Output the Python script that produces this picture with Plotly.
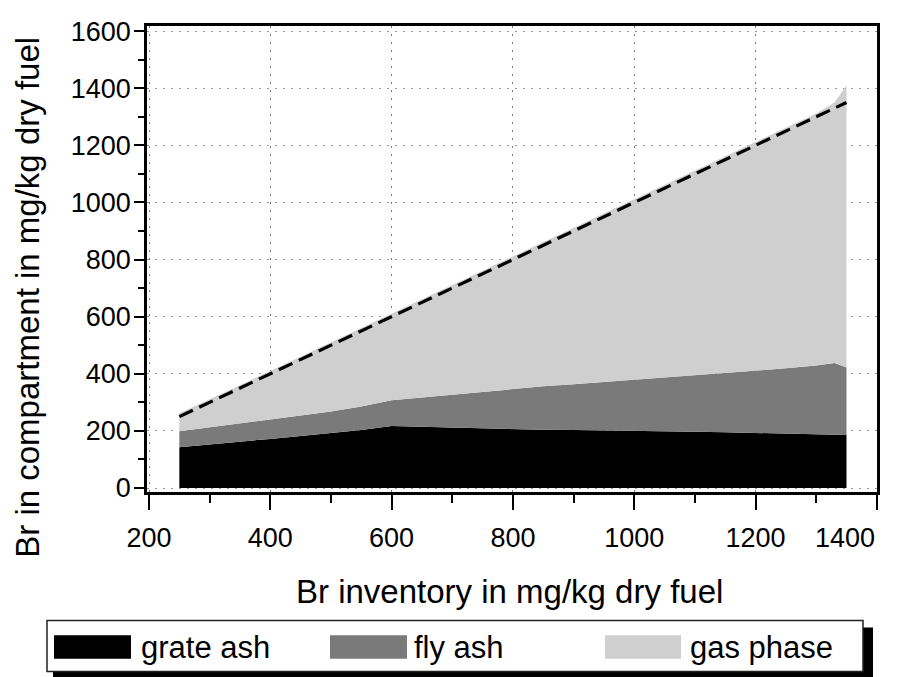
import plotly.graph_objects as go

# ---- data ----
inventory = [250, 300, 350, 400, 450, 500, 550, 600, 650, 700, 750, 800, 850, 900,
             950, 1000, 1050, 1100, 1150, 1200, 1250, 1300, 1330, 1350]
grate_ash = [143, 152, 162, 172, 182, 192, 203, 217, 214, 211, 208, 206, 204, 203,
             202, 201, 199, 197, 195, 193, 191, 189, 188, 186]
fly_ash = [56, 60, 64, 68, 72, 76, 82, 90, 103, 116, 129, 141, 152, 160,
           169, 178, 187, 196, 206, 217, 228, 240, 250, 236]
gas_phase = [63, 98, 134, 170, 206, 242, 275, 303, 343, 383, 423, 463, 504, 547,
             589, 631, 674, 717, 759, 800, 841, 883, 912, 988]
total_line_x = [250, 1350]
total_line_y = [250, 1350]

series_names = ["grate ash", "fly ash", "gas phase"]
series_colors = ["#000000", "#7a7a7a", "#cfcfcf"]

x_ticks = [200, 400, 600, 800, 1000, 1200, 1400]
y_ticks = [0, 200, 400, 600, 800, 1000, 1200, 1400, 1600]

FONT = "Liberation Sans, Arial, Helvetica, sans-serif"

fig = go.Figure()
for name, vals, col in zip(series_names, [grate_ash, fly_ash, gas_phase], series_colors):
    fig.add_trace(go.Scatter(
        x=inventory, y=vals, name=name, mode="lines", stackgroup="one",
        line=dict(width=0, color=col), fillcolor=col, showlegend=False,
        hoverinfo="x+y+name"))

fig.add_trace(go.Scatter(
    x=total_line_x, y=total_line_y, mode="lines", showlegend=False,
    line=dict(color="black", width=3.2, dash="15px,7px")))

# page body has an 8px default margin -> work in window pixels, shift by OFF
OFF = 8
W, H = 901 - OFF, 677 - OFF
L, R, T, B = 147, 877, 17, 492  # plot area in window pixels
def px(xp):
    return (xp - L) / (R - L)
def py(yp):
    return (B - yp) / (B - T)

shapes = []
annotations = []
# legend shadow + box
shapes.append(dict(type="rect", xref="paper", yref="paper",
                   x0=px(53), x1=px(873), y0=py(690), y1=py(630),
                   fillcolor="black", line=dict(width=0), layer="above"))
shapes.append(dict(type="rect", xref="paper", yref="paper",
                   x0=px(47), x1=px(863), y0=py(675), y1=py(623),
                   fillcolor="white", line=dict(color="#222", width=1.5), layer="above"))
swatch_x = [(54, 131), (330, 407), (605, 681)]
text_x = [139, 412, 688]
for (a, b), tx, name, col in zip(swatch_x, text_x, series_names, series_colors):
    shapes.append(dict(type="rect", xref="paper", yref="paper",
                       x0=px(a), x1=px(b), y0=py(662), y1=py(638),
                       fillcolor=col, line=dict(width=0), layer="above"))
    annotations.append(dict(xref="paper", yref="paper", x=px(tx), y=py(650),
                            text=name, showarrow=False, xanchor="left", yanchor="middle",
                            font=dict(family=FONT, size=31, color="black")))

# axis titles
annotations.append(dict(xref="paper", yref="paper", x=px(509), y=py(593),
                        text="Br inventory in mg/kg dry fuel", showarrow=False,
                        xanchor="center", yanchor="middle",
                        font=dict(family=FONT, size=33, color="black")))
annotations.append(dict(xref="paper", yref="paper", x=px(28), y=py(294),
                        text="Br in compartment in mg/kg dry fuel", showarrow=False,
                        textangle=-90, xanchor="center", yanchor="middle",
                        font=dict(family=FONT, size=33, color="black")))
# last x tick label sits left of its tick in the reference
annotations.append(dict(xref="paper", yref="paper", x=px(845), y=py(539),
                        text=str(x_ticks[-1]), showarrow=False,
                        xanchor="center", yanchor="middle",
                        font=dict(family=FONT, size=27, color="black")))

fig.update_layout(
    width=W, height=H,
    margin=dict(l=L - OFF, r=W - (R - OFF), t=T - OFF, b=H - (B - OFF)),
    paper_bgcolor="white", plot_bgcolor="white",
    font=dict(family=FONT, size=27, color="black"),
    shapes=shapes, annotations=annotations,
)
fig.update_xaxes(
    range=[196.7, 1400.3], tickvals=x_ticks,
    ticktext=[str(v) for v in x_ticks[:-1]] + [""],
    showline=True, linecolor="black", linewidth=2.5, mirror=True,
    ticks="outside", ticklen=15, tickwidth=2, tickcolor="black",
    minor=dict(ticks="outside", ticklen=8, tickwidth=1.5, dtick=100, tick0=200,
               tickcolor="black", showgrid=False),
    showgrid=True, gridcolor="#777", gridwidth=1, griddash="2px,6px",
    zeroline=False, ticklabelstandoff=5,
    tickfont=dict(family=FONT, size=27, color="black"),
)
fig.update_yaxes(
    range=[-14, 1618], tickvals=y_ticks, ticktext=[str(v) for v in y_ticks],
    showline=True, linecolor="black", linewidth=2.5, mirror=True,
    ticks="outside", ticklen=10, tickwidth=2, tickcolor="black",
    minor=dict(ticks="outside", ticklen=6, tickwidth=1.5, dtick=100, tick0=0,
               tickcolor="black", showgrid=False),
    showgrid=True, gridcolor="#999", gridwidth=1, griddash="2px,6px",
    zeroline=False, ticklabelstandoff=-2,
    tickfont=dict(family=FONT, size=27, color="black"),
)

fig.write_html("out.html")
